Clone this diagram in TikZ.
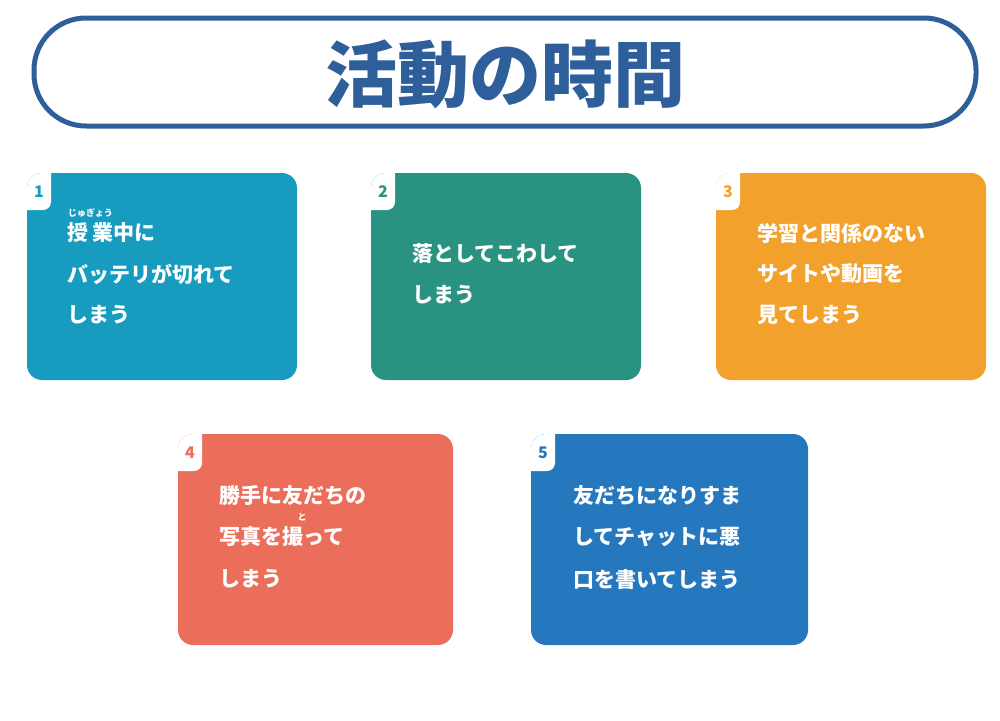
\documentclass[tikz,border=0pt]{standalone}
\usepackage{fontspec}
\setmainfont{Noto Sans CJK JP}
\definecolor{cA}{RGB}{23,156,192}
\definecolor{cB}{RGB}{41,146,128}
\definecolor{cC}{RGB}{242,161,45}
\definecolor{cD}{RGB}{234,110,90}
\definecolor{cE}{RGB}{38,120,190}
\definecolor{tblue}{RGB}{46,95,155}
\newcommand{\cardbox}[6]{% name,x0,y0,x1,y1,color,number
  \begin{scope}
  \path[fill=#6,rounded corners=15] (#2,#3) rectangle (#4,#5);
  \clip[rounded corners=15] (#2,#3) rectangle (#4,#5);
  \fill[white,rounded corners=8] (#2-20,#3-20) rectangle (#2+24,#3+37);
  \end{scope}
  \node[name=#1] at ({(#2+#4)/2},{(#3+#5)/2}) {};
}
\tikzset{txt/.style={anchor=west,text=white,font=\fontsize{21}{21}\selectfont\bfseries,inner sep=0},
num/.style={font=\fontsize{16}{16}\selectfont\bfseries,inner sep=0},
ruby/.style={text=white,font=\fontsize{9}{9}\selectfont\bfseries,inner sep=0}}
\begin{document}
\begin{tikzpicture}[x=1pt,y=-1pt]
\useasboundingbox[fill=white] (0,0) rectangle (1000,720);
\draw[tblue,line width=5,fill=white,rounded corners=52] (34,18) rectangle (976,126);
\node[name=title,text=tblue,font=\fontsize{72}{72}\selectfont\bfseries,inner sep=0] at (505,74) {活動の時間};
\cardbox{b1}{27}{173}{297}{380}{cA}
\cardbox{b2}{371}{173}{641}{380}{cB}
\cardbox{b3}{716}{173}{986}{380}{cC}
\cardbox{b4}{178}{434}{453}{645}{cD}
\cardbox{b5}{531}{434}{808}{645}{cE}
\node[num,text=cA] (n1) at (39,192) {1};
\node[num,text=cB] (n2) at (383,192) {2};
\node[num,text=cC] (n3) at (728,192) {3};
\node[num,text=cD] (n4) at (190,453) {4};
\node[num,text=cE] (n5) at (543,453) {5};
\node[txt] (t11) at (67,233) {授\hspace{4pt}業中に};
\node[ruby,anchor=west] (r1) at (68,213) {じゅぎょう};
\node[txt] (t12) at (67,274) {バッテリが切れて};
\node[txt] (t13) at (67,315) {しまう};
\node[txt] (t21) at (412,254) {落としてこわして};
\node[txt] (t22) at (412,295) {しまう};
\node[txt] (t31) at (757,233) {学習と関係のない};
\node[txt] (t32) at (757,274) {サイトや動画を};
\node[txt] (t33) at (757,315) {見てしまう};
\node[txt] (t41) at (219,495) {勝手に友だちの};
\node[txt] (t42) at (219,537) {写真を撮って};
\node[ruby] (r4) at (302,517) {と};
\node[txt] (t43) at (219,579) {しまう};
\node[txt] (t51) at (573,495) {友だちになりすま};
\node[txt] (t52) at (573,537) {してチャットに悪};
\node[txt] (t53) at (573,579) {口を書いてしまう};
\end{tikzpicture}
\end{document}
